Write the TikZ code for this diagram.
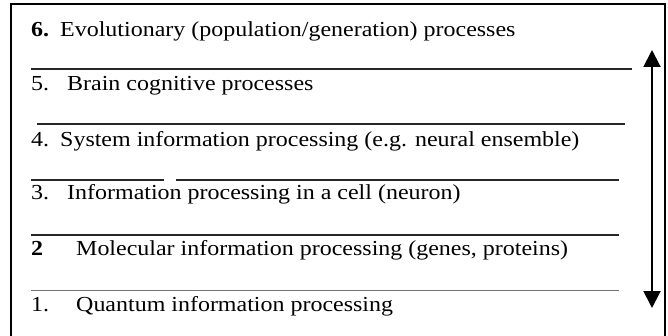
\documentclass[tikz,border=0pt]{standalone}
\usepackage{fontspec}
\setmainfont{Liberation Serif}[FakeStretch=1.12]
\usetikzlibrary{arrows.meta}
\begin{document}
\begin{tikzpicture}[x=1pt,y=-1pt,
  lbl/.style={anchor=base west, inner sep=0pt, font=\fontsize{21.4}{23}\selectfont},
  sep/.style={line width=1.1pt, draw=black!85},
  sepl/.style={line width=0.8pt, draw=black!55},
  frame/.style={line width=2pt, draw=black},
  updown/.style={line width=2pt, {Triangle[width=17pt,length=17pt]}-{Triangle[width=17pt,length=17pt]}}]
\useasboundingbox (0,0) rectangle (668,336);
\draw[frame] (11,336) -- (11,4) -- (665,4) -- (665,336);
% labels
\node[lbl] (n6) at (31,37) {\textbf{6.}};
\node[lbl] (t6) at (60,37) {Evolutionary (population/generation) processes};
\node[lbl] (n5) at (31,91) {5.};
\node[lbl] (t5) at (67,91) {Brain cognitive processes};
\node[lbl] (n4) at (31,147) {4.};
\node[lbl] (t4) at (60,147) {System information processing (e.g. neural ensemble)};
\node[lbl] (n3) at (31,200) {3.};
\node[lbl] (t3) at (67,200) {Information processing in a cell (neuron)};
\node[lbl] (n2) at (31,255) {\textbf{2}};
\node[lbl] (t2) at (76,255) {Molecular information processing (genes, proteins)};
\node[lbl] (n1) at (31,311) {1.};
\node[lbl] (t1) at (76,311) {Quantum information processing};
% separators
\draw[sep] (31,69) -- (632,69);
\draw[sep] (37,124) -- (625,124);
\draw[sep] (31,180) -- (164,180);
\draw[sep] (176,180) -- (619,180);
\draw[sep] (31,235) -- (619,235);
\draw[sepl] (31,290) -- (619,290);
% arrow
\coordinate (atop) at (652,50);
\coordinate (abot) at (652,308);
\draw[updown] (abot) -- (atop);
\end{tikzpicture}
\end{document}
